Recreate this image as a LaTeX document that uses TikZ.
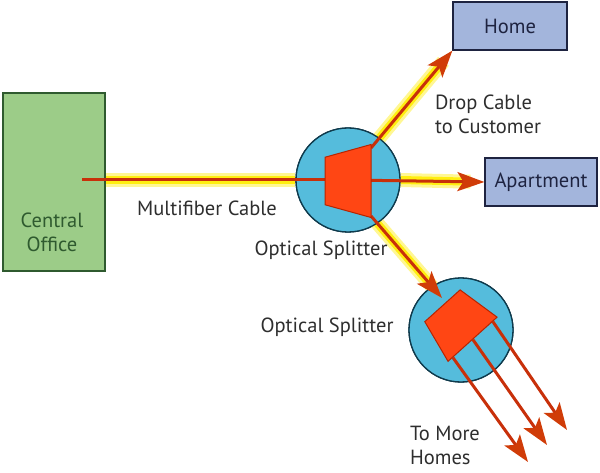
\documentclass[tikz,border=0pt]{standalone}
\usepackage{fontspec}
\setmainfont{PT Sans}
\usetikzlibrary{positioning,calc,arrows.meta,shapes.geometric}

\definecolor{cogreen}{HTML}{9CCC88}
\definecolor{codark}{HTML}{2F5A2F}
\definecolor{homeblue}{HTML}{A3B5DC}
\definecolor{navy}{HTML}{1E2340}
\definecolor{splitblue}{HTML}{55BCDC}
\definecolor{splitedge}{HTML}{0F3A4C}
\definecolor{prism}{HTML}{FF4614}
\definecolor{prismedge}{HTML}{B82400}
\definecolor{fibre}{HTML}{C8300A}
\definecolor{glow}{HTML}{FFEE10}
\definecolor{txt}{HTML}{2E2E2E}

\begin{document}
\begin{tikzpicture}[x=1pt, y=1pt,
  every node/.append style={font=\fontsize{20.5}{24}\selectfont, text=txt},
  office/.style={draw=codark, line width=1.2pt, fill=cogreen,
    minimum width=102pt, minimum height=178pt},
  dest/.style={draw=navy, line width=1.2pt, fill=homeblue, text=navy,
    minimum height=48pt, inner sep=0pt},
  splitter/.style={circle, draw=splitedge, line width=1.3pt, fill=splitblue,
    minimum size=104pt, inner sep=0pt},
  prismbox/.style={trapezium, trapezium stretches=true, draw=prismedge,
    line width=1pt, fill=prism, inner sep=2pt},
  halo/.style={line width=14pt, glow!45, line cap=butt},
  core/.style={line width=3pt, fibre},
  feed/.style={core, -{Stealth[length=27pt, width=19pt, inset=6pt, fibre!85!orange]}},
  caption/.style={align=left, inner sep=0pt},
]
\useasboundingbox (0,0) rectangle (600,472);

% positions
\coordinate (cofeed) at (82,292);
\node[splitter] (sp1) at (348,292) {};
\node[splitter] (sp2) at (461,142) {};
\node[dest, minimum width=114pt] (home) at (510,446) {Home};
\node[dest, minimum width=112pt] (apt) at (541,290) {Apartment};
\node[office] (co) at (54,290) {};

% glow under the cables
\coordinate (up1) at (371,324);
\coordinate (dn1) at (371,256);
\coordinate (tip2) at (442,174);
\draw[halo] (co.east |- cofeed) -- (sp1.west |- cofeed);
\draw[line width=8pt, glow] (co.east |- cofeed) -- (sp1.west |- cofeed);
\foreach \a/\b in {up1/home.south west, sp1.east/apt.west, dn1/tip2} {
  \draw[halo] (\a) -- ($(\b)!14pt!(\a)$);
  \draw[line width=8pt, glow] (\a) -- ($(\b)!14pt!(\a)$);
}
\node[splitter] at (sp1) {};
\node[splitter] at (sp2) {};
\node[office] at (co) {};
\node[align=center, inner sep=0pt, text=codark] at (52,240) {Central\\Office};

% fibres
\draw[core] (cofeed) -- (sp1.center);
\draw[feed] (up1) -- (home.south west);
\draw[feed] (sp1.center) -- (apt.west);
\draw[feed] (dn1) -- (tip2);

\node[prismbox, rotate=90, minimum width=73pt, minimum height=46pt,
  trapezium angle=75] (pr1) at (348,291) {};
\node[prismbox, rotate=42, minimum width=66pt, minimum height=45pt,
  trapezium angle=79] (pr2) at (457.5,149.5) {};

% fan out to homes
\coordinate (o1) at (528,10);
\coordinate (o2) at (547,27);
\coordinate (o3) at (567,42);
\draw[feed] ($(pr2.bottom left corner)!0.1!(pr2.bottom right corner)$) -- (o1);
\draw[feed] ($(pr2.bottom left corner)!0.5!(pr2.bottom right corner)$) -- (o2);
\draw[feed] ($(pr2.bottom left corner)!0.9!(pr2.bottom right corner)$) -- (o3);

% labels
\node (fibcap) at (207,264) {Multifiber Cable};
\node (splcap1) at (321,222) {Optical Splitter};
\node (splcap2) at (327,145) {Optical Splitter};
\node[caption] (dropcap) at (488,358) {Drop Cable\\to Customer};
\node[caption] (morecap) at (445,27) {To More\\Homes};
\end{tikzpicture}
\end{document}
